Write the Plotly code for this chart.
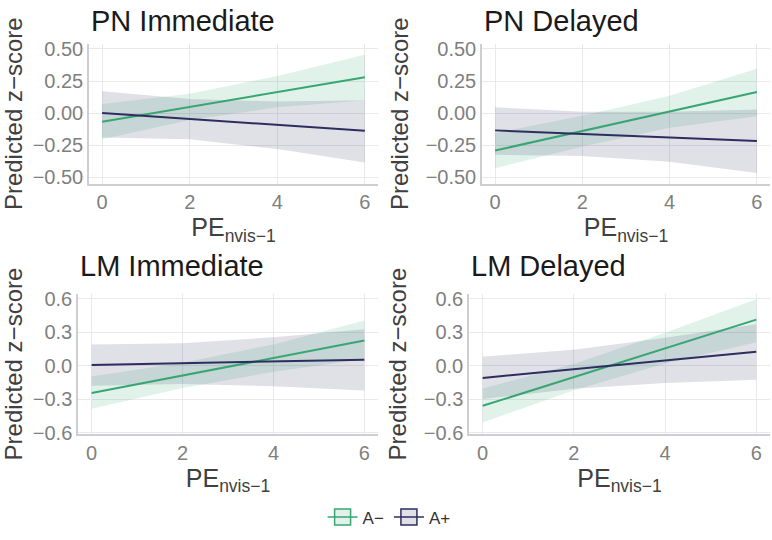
import plotly.graph_objects as go

# ---------------- data ----------------
x_vals = [0, 2, 4, 6]
group_names = ["A\u2212", "A+"]
panel_titles = ["PN Immediate", "PN Delayed", "LM Immediate", "LM Delayed"]

top_ticks = [-0.5, -0.25, 0.0, 0.25, 0.5]
top_ticktext = ["\u22120.50", "\u22120.25", "0.00", "0.25", "0.50"]
bottom_ticks = [-0.6, -0.3, 0.0, 0.3, 0.6]
bottom_ticktext = ["\u22120.6", "\u22120.3", "0.0", "0.3", "0.6"]
x_ticks = [0, 2, 4, 6]

# PN Immediate
pn_imm_aminus_fit = [-0.068, 0.048, 0.164, 0.280]
pn_imm_aminus_lo = [-0.205, -0.055, 0.045, 0.100]
pn_imm_aminus_hi = [0.070, 0.150, 0.290, 0.455]
pn_imm_aplus_fit = [0.000, -0.046, -0.092, -0.138]
pn_imm_aplus_lo = [-0.190, -0.205, -0.280, -0.385]
pn_imm_aplus_hi = [0.170, 0.110, 0.090, 0.100]

# PN Delayed
pn_del_aminus_fit = [-0.292, -0.140, 0.012, 0.165]
pn_del_aminus_lo = [-0.430, -0.260, -0.115, -0.025]
pn_del_aminus_hi = [-0.155, -0.020, 0.135, 0.345]
pn_del_aplus_fit = [-0.135, -0.162, -0.190, -0.218]
pn_del_aplus_lo = [-0.325, -0.335, -0.380, -0.468]
pn_del_aplus_hi = [0.045, 0.010, 0.010, 0.028]

# LM Immediate
lm_imm_aminus_fit = [-0.245, -0.088, 0.068, 0.225]
lm_imm_aminus_lo = [-0.387, -0.200, -0.055, 0.060]
lm_imm_aminus_hi = [-0.098, 0.025, 0.190, 0.404]
lm_imm_aplus_fit = [0.006, 0.022, 0.039, 0.053]
lm_imm_aplus_lo = [-0.180, -0.165, -0.185, -0.222]
lm_imm_aplus_hi = [0.190, 0.200, 0.254, 0.326]

# LM Delayed
lm_del_aminus_fit = [-0.360, -0.103, 0.155, 0.412]
lm_del_aminus_lo = [-0.510, -0.220, 0.020, 0.210]
lm_del_aminus_hi = [-0.205, 0.015, 0.295, 0.594]
lm_del_aplus_fit = [-0.110, -0.032, 0.046, 0.124]
lm_del_aplus_lo = [-0.300, -0.207, -0.155, -0.127]
lm_del_aplus_hi = [0.080, 0.143, 0.250, 0.370]

panel_data = [
    [(pn_imm_aminus_fit, pn_imm_aminus_lo, pn_imm_aminus_hi),
     (pn_imm_aplus_fit, pn_imm_aplus_lo, pn_imm_aplus_hi)],
    [(pn_del_aminus_fit, pn_del_aminus_lo, pn_del_aminus_hi),
     (pn_del_aplus_fit, pn_del_aplus_lo, pn_del_aplus_hi)],
    [(lm_imm_aminus_fit, lm_imm_aminus_lo, lm_imm_aminus_hi),
     (lm_imm_aplus_fit, lm_imm_aplus_lo, lm_imm_aplus_hi)],
    [(lm_del_aminus_fit, lm_del_aminus_lo, lm_del_aminus_hi),
     (lm_del_aplus_fit, lm_del_aplus_lo, lm_del_aplus_hi)],
]

# ---------------- style ----------------
W, H = 772, 540
line_colors = ["#38A673", "#2D2E5F"]
band_colors = ["rgba(56,166,115,0.15)", "rgba(45,46,95,0.15)"]
FONT = "Liberation Sans, Arial, sans-serif"
grid_col = "#E9E9EC"
axis_line_col = "#CDCDD2"
tick_col = "#7F7F7F"

# panel boxes in pixels: (left, right, top, bottom)
boxes = [(89, 378, 39, 183), (482, 770, 39, 183),
         (78, 378, 297, 441), (469, 770, 297, 441)]
y_ranges = [[-0.55, 0.54], [-0.55, 0.54], [-0.612, 0.64], [-0.612, 0.64]]
title_y = [15, 15, 268, 268]

fig = go.Figure()

for i in range(4):
    xa = "x" if i == 0 else f"x{i+1}"
    ya = "y" if i == 0 else f"y{i+1}"
    # ribbons
    for g in range(2):
        fit, lo, hi = panel_data[i][g]
        fig.add_trace(go.Scatter(
            x=x_vals + x_vals[::-1], y=hi + lo[::-1],
            fill="toself", fillcolor=band_colors[g],
            line=dict(width=0), mode="lines", hoverinfo="skip",
            showlegend=False, xaxis=xa, yaxis=ya))
    # fitted lines
    for g in range(2):
        fit, lo, hi = panel_data[i][g]
        fig.add_trace(go.Scatter(
            x=x_vals, y=fit, mode="lines",
            line=dict(color=line_colors[g], width=2),
            showlegend=False, name=group_names[g], xaxis=xa, yaxis=ya))

# legend-only entries
for g in range(2):
    fig.add_trace(go.Scatter(
        x=[None], y=[None], mode="lines+markers", name=group_names[g],
        line=dict(color=line_colors[g], width=1.5),
        marker=dict(symbol="square", size=18, color=band_colors[g],
                    line=dict(color=line_colors[g], width=1.5)),
        showlegend=True, xaxis="x", yaxis="y"))

layout = dict(
    width=W, height=H,
    margin=dict(l=0, r=0, t=0, b=0),
    paper_bgcolor="white", plot_bgcolor="white",
    font=dict(family=FONT, color="#333333"),
    legend=dict(orientation="h", x=0.504, xanchor="center",
                y=1 - 527 / H, yanchor="middle",
                font=dict(size=17, color="#333333"),
                itemwidth=30),
    annotations=[],
)

for i in range(4):
    l, r, t, b = boxes[i]
    xk = "xaxis" if i == 0 else f"xaxis{i+1}"
    yk = "yaxis" if i == 0 else f"yaxis{i+1}"
    xa = "x" if i == 0 else f"x{i+1}"
    ya = "y" if i == 0 else f"y{i+1}"
    top_row = i < 2
    layout[xk] = dict(
        domain=[l / W, r / W], anchor=ya, range=[-0.3, 6.3],
        tickvals=x_ticks, showgrid=True, gridcolor=grid_col, gridwidth=1,
        zeroline=False, showline=True, linecolor=axis_line_col, linewidth=1.5,
        ticks="", tickfont=dict(size=20, color=tick_col, family=FONT),
        title=dict(text="PE<sub>nvis\u22121</sub>", standoff=4,
                   font=dict(size=25, color="#404040", family=FONT)),
    )
    layout[yk] = dict(
        domain=[1 - b / H, 1 - t / H], anchor=xa, range=y_ranges[i],
        tickvals=top_ticks if top_row else bottom_ticks,
        ticktext=top_ticktext if top_row else bottom_ticktext,
        showgrid=True, gridcolor=grid_col, gridwidth=1,
        zeroline=False, showline=True, linecolor=axis_line_col, linewidth=1.5,
        ticks="", tickfont=dict(size=20, color=tick_col, family=FONT),
        title=dict(text="Predicted z\u2212score", standoff=10,
                   font=dict(size=24, color="#404040", family=FONT)),
    )
    layout["annotations"].append(dict(
        text=panel_titles[i], xref="paper", yref="paper",
        x=l / W, xanchor="left", y=1 - title_y[i] / H, yanchor="middle",
        showarrow=False, font=dict(size=29, color="#1A1A1A", family=FONT)))

fig.update_layout(**layout)
fig.write_html("out.html")
